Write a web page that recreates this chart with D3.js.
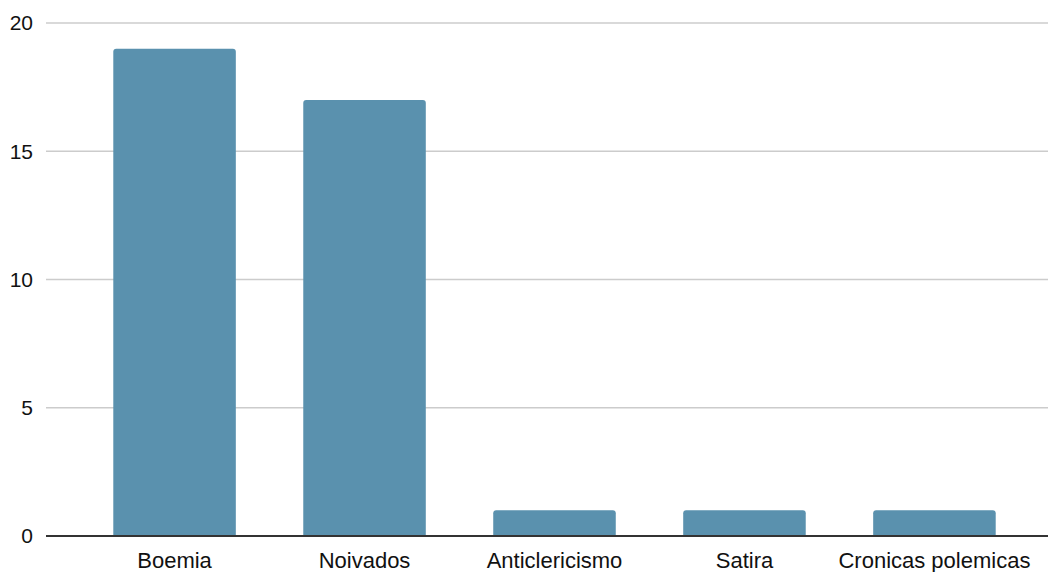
<!DOCTYPE html>
<html>
<head>
<meta charset="utf-8">
<script src="https://cdn.jsdelivr.net/npm/d3@7"></script>
<style>
  body { margin: 0; background: #fff; }
  svg { display: block; }
  text { font-family: "Liberation Sans", Arial, sans-serif; }
</style>
</head>
<body>
<div id="chart"></div>
<script>
var categories = ['Boemia', 'Noivados', 'Anticlericismo', 'Satira', 'Cronicas polemicas'];
var counts = [19, 17, 1, 1, 1];
var yTicks = [0, 5, 10, 15, 20];

var width = 1051, height = 572;
var plotLeft = 46, plotRight = 1048, plotTop = 23, plotBottom = 536;

var svg = d3.select('#chart').append('svg')
    .attr('width', width)
    .attr('height', height);

var x = d3.scaleBand()
    .domain(categories)
    .range([62, 1047])
    .paddingInner(0.355)
    .paddingOuter(0.27);

var y = d3.scaleLinear()
    .domain([0, 20])
    .range([plotBottom, plotTop]);

// gridlines
svg.append('g')
    .selectAll('line')
    .data(yTicks.filter(function(d) { return d > 0; }))
    .enter()
    .append('line')
    .attr('x1', plotLeft)
    .attr('x2', plotRight)
    .attr('y1', function(d) { return y(d); })
    .attr('y2', function(d) { return y(d); })
    .attr('stroke', '#cccccc')
    .attr('stroke-width', 1.3);

// y labels
svg.append('g')
    .selectAll('text')
    .data(yTicks)
    .enter()
    .append('text')
    .attr('x', 33)
    .attr('y', function(d) { return y(d); })
    .attr('dy', '0.35em')
    .attr('text-anchor', 'end')
    .attr('font-size', 21)
    .attr('fill', '#111')
    .text(function(d) { return d; });

// bars, rounded top
var r = 3;
svg.append('g')
    .selectAll('path')
    .data(categories)
    .enter()
    .append('path')
    .attr('fill', '#5a91ae')
    .attr('d', function(d, i) {
        var x0 = x(d), w = x.bandwidth();
        var y0 = y(counts[i]), y1 = y(0);
        return 'M' + x0 + ',' + y1 +
            'V' + (y0 + r) +
            'Q' + x0 + ',' + y0 + ' ' + (x0 + r) + ',' + y0 +
            'H' + (x0 + w - r) +
            'Q' + (x0 + w) + ',' + y0 + ' ' + (x0 + w) + ',' + (y0 + r) +
            'V' + y1 + 'Z';
    });

// baseline
svg.append('line')
    .attr('x1', plotLeft)
    .attr('x2', plotRight)
    .attr('y1', y(0))
    .attr('y2', y(0))
    .attr('stroke', '#333333')
    .attr('stroke-width', 2);

// category labels
svg.append('g')
    .selectAll('text')
    .data(categories)
    .enter()
    .append('text')
    .attr('x', function(d) { return x(d) + x.bandwidth() / 2; })
    .attr('y', 560)
    .attr('dy', '0.35em')
    .attr('text-anchor', 'middle')
    .attr('font-size', 22)
    .attr('fill', '#111')
    .text(function(d) { return d; });
</script>
</body>
</html>
